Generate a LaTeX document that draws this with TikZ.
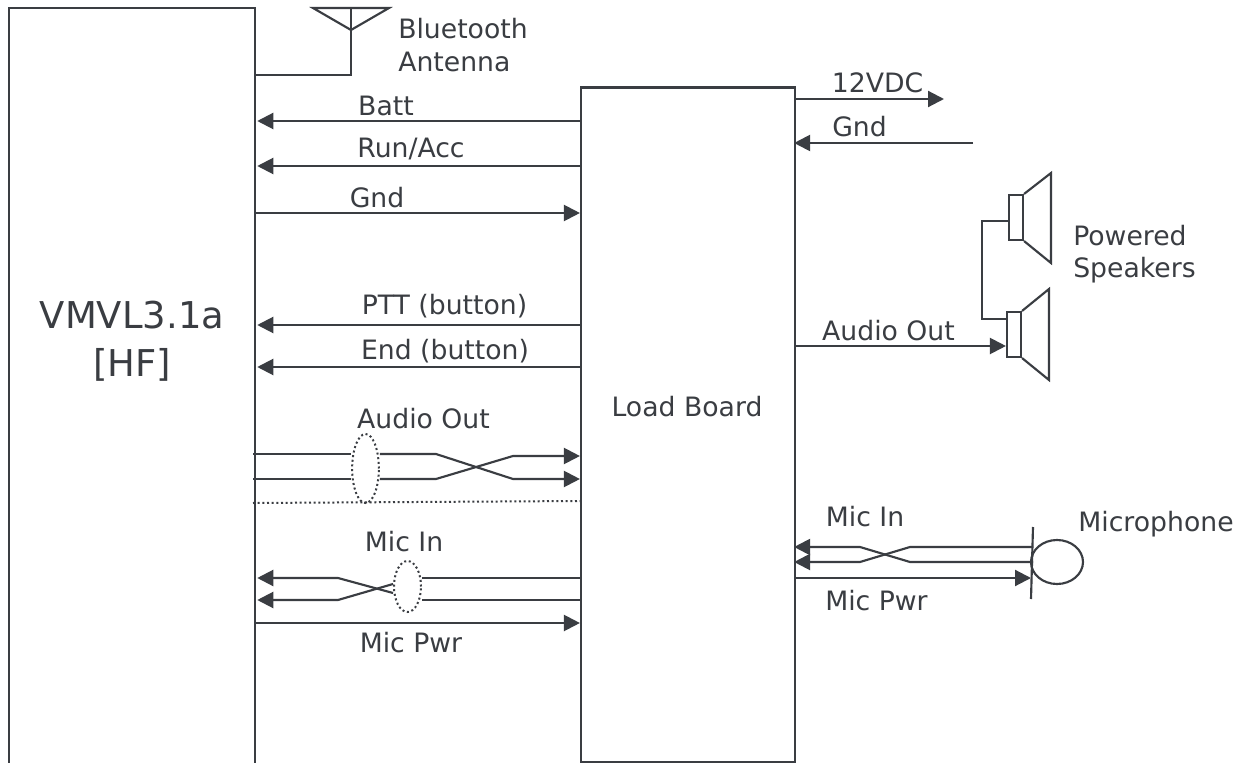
\documentclass[tikz,border=0pt]{standalone}
\usepackage{fontspec}
\setmainfont{DejaVu Sans}
\usetikzlibrary{arrows.meta,shapes.geometric}
\definecolor{ink}{HTML}{3A3D42}
\tikzset{
  wire/.style={draw=ink,line width=1.6pt},
  arr/.style={wire,-{Triangle[length=12pt,width=12pt]}},
  arrvm/.style={arr,shorten >=1.5pt},
  arrlb/.style={arr,shorten >=-1.5pt},
  lab/.style={text=ink,font=\fontsize{20}{24.5}\selectfont,inner sep=0pt},
  labl/.style={lab,anchor=west,align=left},
  big/.style={text=ink,font=\fontsize{27.7}{36}\selectfont,inner sep=0pt,align=center},
  dot/.style={draw=ink,line width=1.5pt,dotted},
  boxline/.style={draw=ink,line width=1.6pt,inner sep=0pt}
}
\begin{document}
\begin{tikzpicture}[x=0.75pt,y=-0.75pt]
\useasboundingbox[fill=white] (0,0) rectangle (1243,763);
% main blocks
\node[rectangle,inner sep=0pt,minimum width=184.5pt,minimum height=566.25pt] (vm) at (132,385.5) {};
\draw[wire] (vm.south west) -- (vm.north west) -- (vm.north east) -- (vm.south east);
\node[big] (vmtext) at (132,341) {VMVL3.1a\\{[HF]}};
\node[rectangle,boxline,minimum width=160.5pt,minimum height=506.25pt] (lb) at (688,425) {};
\node[lab] (lbtext) at (687,407) {Load Board};
% antenna
\coordinate (antTop) at (351,8);
\coordinate (antTip) at (351,30);
\draw[wire] (313,8) -- (389,8) -- (antTip) -- cycle;
\draw[wire] (antTop) -- (351,75) -- (vm.east |- 351,75);
\node[labl] (bt) at (398,45) {Bluetooth\\Antenna};
% left wires
\draw[arrvm] (lb.west |- 0,121) -- (vm.east |- 0,121);
\node[lab] (l1) at (386,105.5) {Batt};
\draw[arrvm] (lb.west |- 0,166) -- (vm.east |- 0,166);
\node[lab] (l2) at (411,149) {Run/Acc};
\draw[arr] (vm.east |- 0,213) -- (lb.west |- 0,213);
\node[lab] (l3) at (377,198) {Gnd};
\draw[arrvm] (lb.west |- 0,325) -- (vm.east |- 0,325);
\node[lab] (l4) at (444.5,306) {PTT (button)};
\draw[arrvm] (lb.west |- 0,367) -- (vm.east |- 0,367);
\node[lab] (l5) at (445,351) {End (button)};
% audio out pair
\node[lab] (l6) at (423.5,418.5) {Audio Out};
\node[ellipse,dot,inner sep=0pt,minimum width=20pt,minimum height=51.75pt] (e1) at (365.5,468.5) {};
\draw[wire] (253,454) -- (e1.west |- 0,454);
\draw[wire] (253,479) -- (e1.west |- 0,479);
\draw[arr] (e1.east |- 0,454) -- (436,454) -- (513,479) -- (lb.west |- 0,479);
\draw[arr] (e1.east |- 0,479) -- (436,479) -- (513,456) -- (lb.west |- 0,456);
\draw[dot] (253,503) -- (lb.west |- 0,501);
% mic in pair
\node[lab] (l7) at (404,542) {Mic In};
\node[ellipse,dot,inner sep=0pt,minimum width=20.25pt,minimum height=38.25pt] (e2) at (407.5,586.5) {};
\draw[wire] (lb.west |- 0,578) -- (e2.east |- 0,578);
\draw[wire] (lb.west |- 0,600) -- (e2.east |- 0,600);
\draw[arrvm] (e2.west |- 0,593) -- (338,578) -- (vm.east |- 0,578);
\draw[arrvm] (e2.west |- 0,584) -- (338,600) -- (vm.east |- 0,600);
\draw[arr] (vm.east |- 0,623) -- (lb.west |- 0,623);
\node[lab] (l8) at (411,643) {Mic Pwr};
% right top
\draw[arr] (lb.east |- 0,99) -- (944,99);
\node[lab] (r1) at (877.5,83) {12VDC};
\coordinate (gndend) at (973,143);
\draw[arrlb] (gndend) -- (lb.east |- gndend);
\node[lab] (r2) at (859.5,126.5) {Gnd};
% speakers
\node[rectangle,boxline,minimum width=10.5pt,minimum height=33.75pt] (sp1) at (1016,217.5) {};
\draw[wire] (sp1.north east) -- (1051,173) -- (1051,263) -- (sp1.south east);
\node[rectangle,boxline,minimum width=10.5pt,minimum height=33.75pt] (sp2) at (1014,334.5) {};
\draw[wire] (sp2.north east) -- (1049,289) -- (1049,380) -- (sp2.south east);
\draw[wire] (sp1.west |- 0,221) -- (982,221) -- (982,319) -- (sp2.west |- 0,319);
\draw[arr] (lb.east |- 0,346) -- (sp2.west |- 0,346);
\node[lab] (r3) at (888.5,331) {Audio Out};
\node[labl] (r4) at (1073,254) {Powered\\Speakers};
% microphone
\coordinate (barTop) at (1033,527);
\coordinate (barBot) at (1031,599);
\draw[wire] (barTop) -- (barBot);
\node[ellipse,boxline,minimum width=39pt,minimum height=33pt] (mic) at (1057,562) {};
\draw[arrlb] (barTop |- 0,547) -- (910,547) -- (860,562) -- (lb.east |- 0,562);
\draw[arrlb] (barTop |- 0,562) -- (910,562) -- (860,547) -- (lb.east |- 0,547);
\draw[arr] (lb.east |- 0,578) -- (barBot |- 0,578);
\node[lab] (r5) at (865,517) {Mic In};
\node[lab] (r6) at (876.5,601) {Mic Pwr};
\node[lab] (r7) at (1156,524) {Microphone};
\end{tikzpicture}
\end{document}
